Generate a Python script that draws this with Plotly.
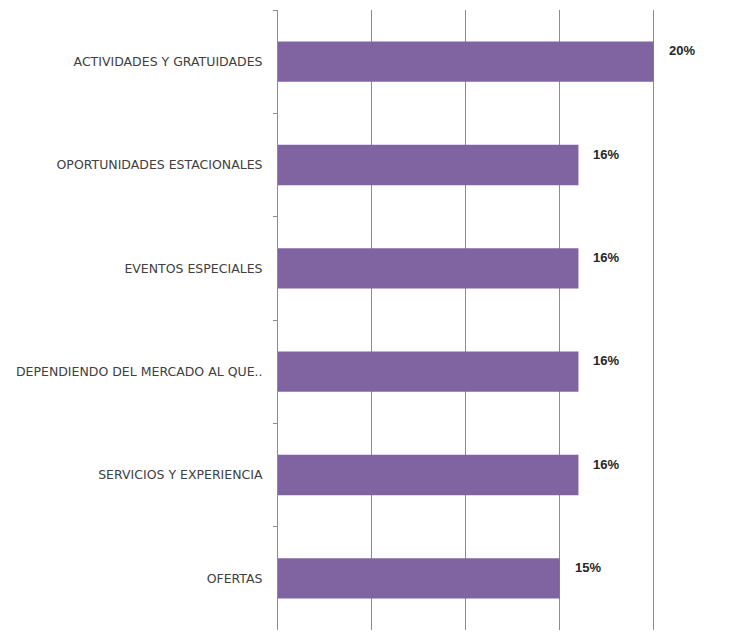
import plotly.graph_objects as go

categories = [
    "ACTIVIDADES Y GRATUIDADES",
    "OPORTUNIDADES ESTACIONALES",
    "EVENTOS ESPECIALES",
    "DEPENDIENDO DEL MERCADO AL QUE..",
    "SERVICIOS Y EXPERIENCIA",
    "OFERTAS",
]
values = [0.20, 0.16, 0.16, 0.16, 0.16, 0.15]
value_labels = ["20%", "16%", "16%", "16%", "16%", "15%"]

fig = go.Figure(
    go.Bar(
        x=values,
        y=categories,
        orientation="h",
        marker=dict(color="#8064A2", line=dict(width=0)),
        width=0.39,
        hoverinfo="skip",
    )
)

for c, v, t in zip(categories, values, value_labels):
    fig.add_annotation(
        x=v, y=c, text=t, showarrow=False, xanchor="left", yanchor="middle",
        xshift=13, yshift=11,
        font=dict(family="Liberation Sans, Arial", size=13, color="#262626", weight="bold"),
    )

fig.update_layout(
    width=731, height=625,
    margin=dict(l=270, r=0, t=2, b=3),
    plot_bgcolor="white", paper_bgcolor="white",
    showlegend=False,
    xaxis=dict(
        range=[0, 0.2455], tickvals=[0, 0.05, 0.10, 0.15, 0.20], showticklabels=False,
        showgrid=True, gridcolor="#8c8c8c", gridwidth=1, zeroline=False, showline=False,
    ),
    yaxis=dict(
        autorange="reversed", showline=True, linecolor="#8c8c8c", linewidth=1,
        ticks="outside", tickson="boundaries", ticklen=4, tickcolor="#8c8c8c",
        tickfont=dict(family="DejaVu Sans", size=12.5, color="#404040"),
        ticklabelstandoff=12, showgrid=False,
    ),
)

fig.write_html("out.html")
